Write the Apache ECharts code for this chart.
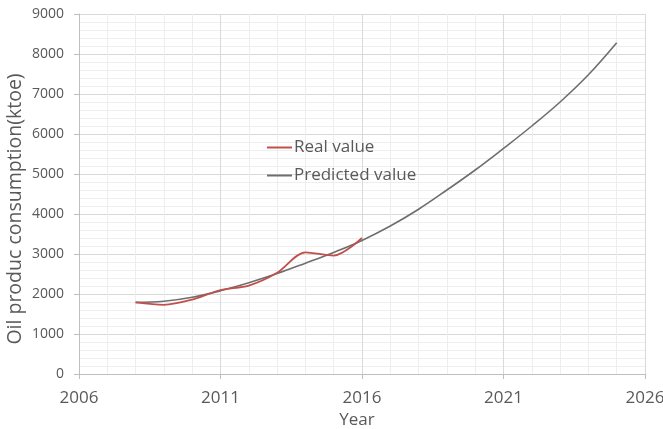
<!DOCTYPE html>
<html><head><meta charset="utf-8">
<script src="https://cdn.jsdelivr.net/npm/echarts@6/dist/echarts.min.js"></script>
<style>html,body{margin:0;padding:0;background:#fff}#c{width:663px;height:429px}</style>
</head><body><div id="c"></div>
<script>
const realYears = [2008, 2009, 2010, 2011, 2012, 2013, 2014, 2015, 2016];
const realValues = [1790, 1730, 1860, 2100, 2210, 2530, 3040, 2960, 3400];
const predYears = [2008, 2009, 2010, 2011, 2012, 2013, 2014, 2015, 2016, 2017, 2018, 2019, 2020, 2021, 2022, 2023, 2024, 2025];
const predValues = [1790, 1820, 1920, 2080, 2280, 2510, 2770, 3040, 3340, 3700, 4120, 4600, 5100, 5640, 6200, 6800, 7480, 8280];
const xTicks = [2006, 2011, 2016, 2021, 2026];
const yTicks = [0, 1000, 2000, 3000, 4000, 5000, 6000, 7000, 8000, 9000];

const chart = echarts.init(document.getElementById('c'), null, {renderer: 'canvas'});
const txt = '#595959';
chart.setOption({
  animation: false,
  backgroundColor: '#fff',
  grid: {left: 79, right: 18, top: 14, bottom: 55, containLabel: false, outerBoundsMode: 'none'},
  legend: {
    orient: 'vertical', left: 262, top: 134, itemGap: 11,
    itemWidth: 25, itemHeight: 2, icon: 'rect',
    textStyle: {fontFamily: 'Open Sans', fontSize: 17, color: txt, padding: [0, 0, 0, -3]},
    data: ['Real value', 'Predicted value']
  },
  xAxis: {
    type: 'value', min: xTicks[0], max: xTicks[xTicks.length - 1], interval: 5,
    name: 'Year', nameLocation: 'middle', nameGap: 38,
    nameTextStyle: {fontFamily: 'Open Sans', fontSize: 17, color: txt, padding: [0, 10, 0, 0]},
    axisLine: {show: true, lineStyle: {color: '#bfbfbf'}},
    axisTick: {show: true, length: 5, lineStyle: {color: '#bfbfbf'}},
    axisLabel: {fontFamily: 'Open Sans', fontSize: 17, color: txt, margin: 16,
      formatter: v => xTicks.includes(v) ? String(v) : ''},
    splitLine: {show: true, lineStyle: {color: '#d9d9d9'}},
    minorTick: {show: false, splitNumber: 5},
    minorSplitLine: {show: true, lineStyle: {color: '#eeeeee'}}
  },
  yAxis: {
    type: 'value', min: yTicks[0], max: yTicks[yTicks.length - 1], interval: 1000,
    name: 'Oil produc consumption(ktoe)', nameLocation: 'middle', nameGap: 54,
    nameMoveOverlap: false,
    nameTextStyle: {fontFamily: 'Open Sans', fontSize: 19.5, color: txt, padding: [0, 30, 0, 0]},
    axisLine: {show: true, lineStyle: {color: '#bfbfbf'}},
    axisTick: {show: true, length: 5, lineStyle: {color: '#bfbfbf'}},
    axisLabel: {fontFamily: 'Open Sans', fontSize: 14, color: txt, margin: 15,
      formatter: v => String(v)},
    splitLine: {show: true, lineStyle: {color: '#d9d9d9'}},
    minorTick: {show: false, splitNumber: 5},
    minorSplitLine: {show: true, lineStyle: {color: '#eeeeee'}}
  },
  series: [
    {name: 'Predicted value', type: 'line', smooth: 0.4, symbol: 'none', z: 2,
     data: predYears.map((y, i) => [y, predValues[i]]),
     lineStyle: {color: '#6e6e6e', width: 1.6}, itemStyle: {color: '#6e6e6e'}},
    {name: 'Real value', type: 'line', smooth: 0.3, symbol: 'none', z: 3,
     data: realYears.map((y, i) => [y, realValues[i]]),
     lineStyle: {color: '#c0504d', width: 1.8}, itemStyle: {color: '#c0504d'}}
  ]
});
</script></body></html>
